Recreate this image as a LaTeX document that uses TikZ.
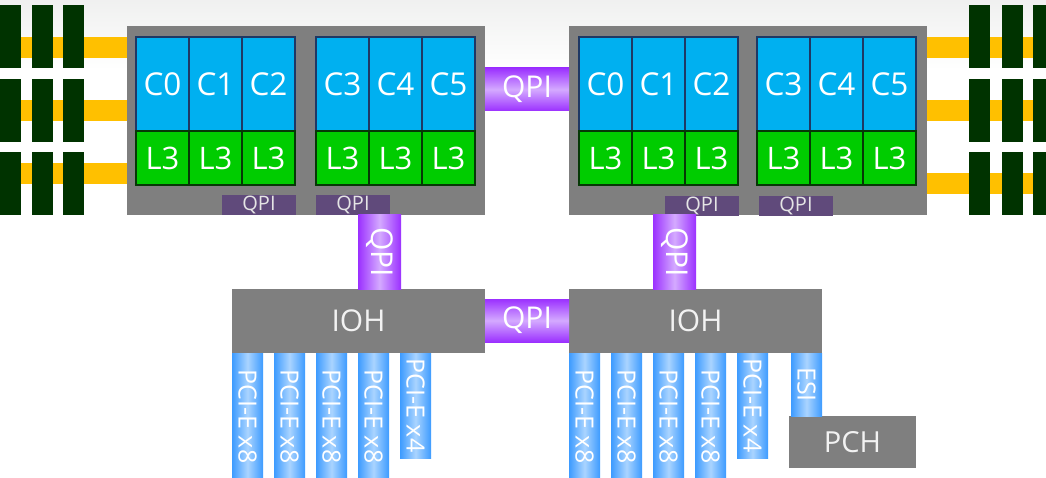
\documentclass[tikz,border=0pt]{standalone}
\usepackage{fontspec}
\setmainfont{Open Sans}
\usetikzlibrary{calc}

\definecolor{boxgray}{HTML}{7F7F7F}
\definecolor{coreblue}{HTML}{00B0F0}
\definecolor{coreline}{HTML}{1F3864}
\definecolor{cachegreen}{HTML}{00CC00}
\definecolor{cacheline}{HTML}{063806}
\definecolor{dimmgreen}{HTML}{003300}
\definecolor{busorange}{HTML}{FFC000}
\definecolor{tabpurple}{HTML}{604A7B}
\definecolor{linkdark}{HTML}{9B30FF}
\definecolor{linklight}{HTML}{D4AAFF}
\definecolor{pcidark}{HTML}{3D9BFF}
\definecolor{pcilight}{HTML}{AAD4FF}

\tikzset{
  box/.style={anchor=north west, inner sep=0pt, outer sep=0pt},
  cpu/.style={box, fill=boxgray, minimum width=358pt, minimum height=189pt},
  core/.style={box, fill=coreblue, draw=coreline, line width=1.5pt, text=white,
    minimum width=53pt, minimum height=94pt, font=\fontsize{31.5}{31.5}\selectfont},
  cache/.style={box, fill=cachegreen, draw=cacheline, line width=1.5pt, text=white,
    minimum width=53pt, minimum height=54pt, font=\fontsize{31}{31}\selectfont},
  qpitab/.style={box, fill=tabpurple, text=black!10, minimum width=74pt, minimum height=20pt,
    font=\fontsize{20}{20}\selectfont},
  qpih/.style={box, top color=linkdark, bottom color=linkdark, middle color=linklight,
    text=white, minimum width=84pt, minimum height=43pt, font=\fontsize{30}{30}\selectfont},
  qpiv/.style={box, left color=linkdark, right color=linkdark, middle color=linklight,
    minimum width=43pt, minimum height=74pt},
  vlabel/.style={rotate=-90, text=white, inner sep=0pt},
  hub/.style={box, fill=boxgray, text=black!5, minimum width=253pt, minimum height=64pt,
    font=\fontsize{30}{30}\selectfont},
  pcie/.style={box, left color=pcidark, right color=pcidark, middle color=pcilight,
    minimum width=31pt},
  dimm/.style={box, fill=dimmgreen, minimum width=21pt, minimum height=63pt},
  membus/.style={busorange, line width=21pt}
}

\begin{document}
\begin{tikzpicture}[x=1pt, y=-1pt]
  \clip (0,0) rectangle (1046,478);
  \fill[white] (0,0) rectangle (1046,478);
  \shade[top color=green!3!black!6, bottom color=white] (0,0) rectangle (1046,70);

  % processors
  \node[cpu] (cpuL) at (127,26) {};
  \node[cpu] (cpuR) at (569,26) {};

  % memory channels
  \foreach \r/\y in {1/47.5, 2/110.5, 3/173.5} {
    \coordinate (ml\r) at (0,\y);
    \draw[membus] (ml\r) -- (ml\r -| cpuL.west);
  }
  \foreach \r/\y in {1/47.5, 2/110.5, 3/183.5} {
    \coordinate (mr\r) at (1046,\y);
    \draw[membus] (cpuR.east |- mr\r) -- (mr\r);
  }
  \foreach \r/\ry in {1/5, 2/79, 3/152} {
    \foreach \c/\cx in {1/0, 2/32, 3/63}
      \node[dimm] (dl\r\c) at (\cx,\ry) {};
    \foreach \c/\cx in {1/969, 2/1002, 3/1033}
      \node[dimm] (dr\r\c) at (\cx,\ry) {};
  }

  % cores and L3
  \foreach \cx/\pre/\first in {136/la/0, 316/lb/3, 579/ra/0, 757/rb/3} {
    \foreach \i in {0,1,2} {
      \pgfmathtruncatemacro{\n}{\first+\i}
      \node[core] (\pre c\i) at (\cx+53*\i,37) {C\n};
      \node[cache] (\pre l\i) at (\cx+53*\i,131) {L3};
    }
  }

  % QPI ports
  \node[qpitab] (tabLa) at (222,195) {QPI};
  \node[qpitab] (tabLb) at (316,195) {QPI};
  \node[qpitab] (tabRa) at (665,196) {QPI};
  \node[qpitab] (tabRb) at (759,196) {QPI};

  % hubs
  \node[hub] (iohL) at (232,289) {IOH};
  \node[hub] (iohR) at (569,289) {IOH};
  \node[hub, minimum width=127pt, minimum height=52pt, font=\fontsize{29}{29}\selectfont] (pch) at (789,416) {PCH};

  % QPI links
  \node[qpih] (qpiCC) at (485,68) {QPI};
  \node[qpih] (qpiII) at (485,299) {QPI};
  \node[qpiv] (qpiL) at (358,215) {};
  \node[vlabel, font=\fontsize{30}{30}\selectfont] (qpiLt) at (qpiL) {QPI};
  \node[qpiv] (qpiR) at (653,215) {};
  \node[vlabel, font=\fontsize{30}{30}\selectfont] (qpiRt) at (qpiR) {QPI};

  % PCI-E lanes
  \foreach \i/\lab/\h in {0/x8/127, 1/x8/127, 2/x8/127, 3/x8/127, 4/x4/105} {
    \node[pcie, minimum height=\h pt] (pl\i) at (232+42*\i,353) {};
    \node[vlabel, font=\fontsize{25}{25}\selectfont] (pl\i t) at (pl\i) {PCI-E \lab};
    \node[pcie, minimum height=\h pt] (pr\i) at (569+42*\i,353) {};
    \node[vlabel, font=\fontsize{25}{25}\selectfont] (pr\i t) at (pr\i) {PCI-E \lab};
  }
  \node[pcie, minimum height=63pt] (esi) at (791,353) {};
  \node[vlabel, font=\fontsize{25}{25}\selectfont] (esit) at (esi) {ESI};
\end{tikzpicture}
\end{document}
